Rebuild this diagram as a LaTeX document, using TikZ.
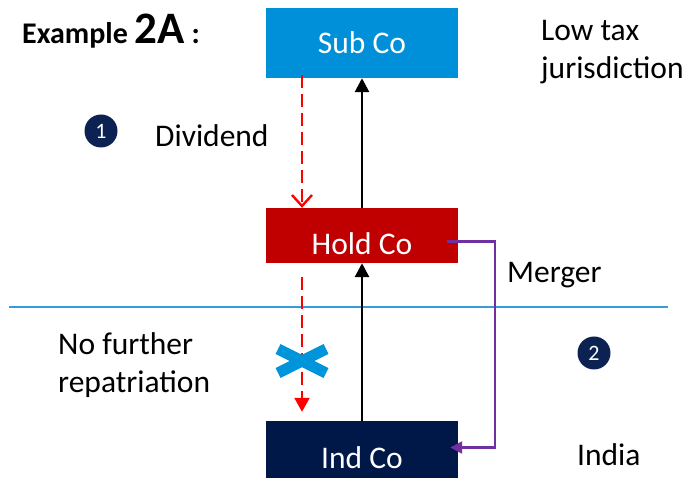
\documentclass[tikz,border=0pt]{standalone}
\usepackage{fontspec}
\setmainfont{Carlito}
\usepackage{tikz}
\usetikzlibrary{arrows.meta,calc,positioning}
\definecolor{subblue}{HTML}{0090DA}
\definecolor{holdred}{HTML}{C00000}
\definecolor{indnavy}{HTML}{001848}
\definecolor{badgebg}{HTML}{0C2252}
\definecolor{mergecol}{HTML}{7030A0}
\definecolor{sepcol}{HTML}{3A9AD9}
\definecolor{crossblue}{HTML}{0095DA}
\tikzset{
  cobox/.style={minimum width=192pt, inner sep=0pt, text=white, font=\fontsize{31.5}{34}\selectfont},
  lowtext/.style={text height=39pt, text depth=0pt},
  badge/.style={circle, fill=badgebg, text=white, minimum size=33pt, inner sep=0pt, font=\fontsize{22}{24}\selectfont},
  lab/.style={anchor=west, inner sep=0pt, align=left, font=\fontsize{31.5}{38}\selectfont},
  own/.style={line width=2.8pt, -{Triangle[length=14pt,width=14pt]}},
  divflow/.style={draw=red, line width=2.4pt, dash pattern=on 13pt off 6pt},
  mergeflow/.style={draw=mergecol, line width=2.4pt, -{Triangle[length=12pt,width=12pt]}},
  sepline/.style={draw=sepcol, line width=1.1pt},
  xmark/.style={draw=crossblue, line width=11pt}
}
\begin{document}
\begin{tikzpicture}[x=1pt,y=-1pt]
  \useasboundingbox (0,0) rectangle (689,478);

  % entities
  \node[cobox, fill=subblue, minimum height=70pt] (sub) at (362,43) {Sub Co};
  \node[cobox, lowtext, fill=holdred, minimum height=55pt] (hold) at (362,235.5) {Hold Co};
  \node[cobox, lowtext, fill=indnavy, minimum height=57pt] (ind) at (362,449.5) {Ind Co};

  % jurisdictions split
  \draw[sepline] (9,307) -- (668,307);

  % shareholding
  \draw[own] (hold.north) -- (sub.south);
  \draw[own] (ind.north) -- (hold.south);

  % dividend path
  \coordinate (cut) at (302,0);
  \draw[divflow, -{Straight Barb[length=11pt,width=20pt,line width=2.4pt]}]
    ([yshift=3pt]sub.south -| cut) -- (hold.north -| cut);
  \draw[divflow, -{Triangle[length=14pt,width=15pt,fill=red]}]
    ([yshift=-14pt]hold.south -| cut) -- ([yshift=9pt]ind.north -| cut);
  \coordinate (xc) at (302,361);
  \draw[xmark] ($(xc)+(-24,-12)$) -- ($(xc)+(24,12)$);
  \draw[xmark] ($(xc)+(-24,12)$) -- ($(xc)+(24,-12)$);

  % merger
  \coordinate (mr) at (495,0);
  \coordinate (mStart) at ([xshift=-11pt,yshift=-6pt]hold.east);
  \coordinate (mEnd) at ([xshift=-8pt,yshift=2pt]ind.east);
  \draw[mergeflow] (mStart) -- (mStart -| mr) |- (mEnd);

  % labels
  \node[lab, font=\bfseries\fontsize{30}{32}\selectfont] (title) at (22,31)
    {Example {\fontsize{45}{47}\selectfont 2A} :};
  \node[badge] (one) at (101,131) {1};
  \node[lab] (divlab) at (155,136) {Dividend};
  \node[lab] (lowtax) at (541,52) {Low tax\\jurisdiction};
  \node[lab] (merlab) at (507,275) {Merger};
  \node[badge] (two) at (594,353) {2};
  \node[lab] (nofur) at (58,365) {No further\\repatriation};
  \node[lab] (india) at (577,455) {India};
\end{tikzpicture}
\end{document}
